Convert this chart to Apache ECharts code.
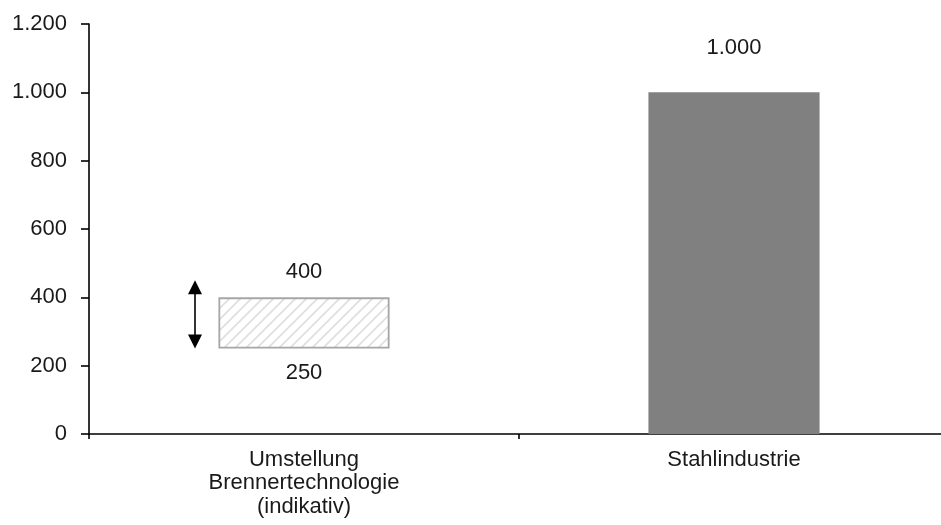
<!DOCTYPE html>
<html>
<head>
<meta charset="utf-8">
<script src="https://cdn.jsdelivr.net/npm/echarts@6/dist/echarts.min.js"></script>
<style>
  html, body { margin: 0; padding: 0; background: #fff; }
  #chart { width: 941px; height: 525px; }
</style>
</head>
<body>
<div id="chart"></div>
<script>
// Categories and values
var categories = ['Umstellung\nBrennertechnologie\n(indikativ)', 'Stahlindustrie'];
var rangeLow = [250, null];        // lower bound of the indicative range
var rangeHigh = [400, null];       // upper bound of the indicative range
var totals = [null, 1000];         // solid bar values
var arrowSpan = [450, 250];        // vertical extent of the double arrow
var yTicks = { min: 0, max: 1200, step: 200 };

function fmtDE(v) {
  return String(v).replace(/\B(?=(\d{3})+(?!\d))/g, '.');
}

// Diagonal hatch tile for the range box
function hatchPattern() {
  var s = 11;
  var c = document.createElement('canvas');
  c.width = s; c.height = s;
  var g = c.getContext('2d');
  g.fillStyle = '#ffffff';
  g.fillRect(0, 0, s, s);
  g.strokeStyle = '#dedede';
  g.lineWidth = 1.6;
  g.beginPath();
  g.moveTo(-1, s + 1); g.lineTo(s + 1, -1);
  g.moveTo(-1, 1); g.lineTo(1, -1);
  g.moveTo(s - 1, s + 1); g.lineTo(s + 1, s - 1);
  g.stroke();
  return c;
}

var FONT = 'Liberation Sans, Arial, sans-serif';
var FS = 22;
var TXT = '#1a1a1a';
var chart = echarts.init(document.getElementById('chart'));

var rangeSpan = rangeHigh.map(function (h, i) {
  return h == null ? null : h - rangeLow[i];
});

chart.setOption({
  animation: false,
  grid: { left: 89, right: -8, top: 24, bottom: 91, outerBoundsMode: 'none', containLabel: false },
  xAxis: {
    type: 'category',
    data: categories,
    axisLine: { lineStyle: { color: '#000', width: 1.6 } },
    axisTick: { show: true, length: 5, lineStyle: { color: '#000', width: 1.6 } },
    axisLabel: { color: TXT, fontSize: FS, fontFamily: FONT, lineHeight: 23.5, margin: 14, interval: 0 }
  },
  yAxis: {
    type: 'value',
    min: yTicks.min, max: yTicks.max, interval: yTicks.step,
    axisLine: { show: true, lineStyle: { color: '#000', width: 1.6 } },
    axisTick: { show: true, length: 8, lineStyle: { color: '#000', width: 1.6 } },
    splitLine: { show: false },
    axisLabel: { color: TXT, fontSize: FS, fontFamily: FONT, margin: 22, formatter: fmtDE }
  },
  series: [
    {
      name: 'base', type: 'bar', stack: 'r', barWidth: '39.8%',
      data: rangeLow,
      itemStyle: { color: 'rgba(0,0,0,0)' },
      label: {
        show: true, position: 'insideTop', distance: 13,
        color: TXT, fontSize: FS, fontFamily: FONT,
        formatter: function (p) { return fmtDE(p.value); }
      }
    },
    {
      name: 'range', type: 'bar', stack: 'r', barWidth: '39.8%',
      data: rangeSpan,
      itemStyle: {
        color: { image: hatchPattern(), repeat: 'repeat' },
        borderColor: '#a6a6a6', borderWidth: 1.8
      },
      label: {
        show: true, position: 'top', distance: 14,
        color: TXT, fontSize: FS, fontFamily: FONT,
        formatter: function (p) { return fmtDE(rangeHigh[p.dataIndex]); }
      }
    },
    {
      name: 'total', type: 'bar', stack: 'r', barWidth: '39.8%',
      data: totals,
      itemStyle: { color: '#808080' },
      label: {
        show: true, position: 'top', distance: 33,
        color: TXT, fontSize: FS, fontFamily: FONT,
        formatter: function (p) { return fmtDE(p.value); }
      }
    }
  ]
});

// Double-headed arrow to the left of the range box
function drawArrow() {
  var top = chart.convertToPixel({ seriesIndex: 1 }, [0, arrowSpan[0]]);
  var bot = chart.convertToPixel({ seriesIndex: 1 }, [0, arrowSpan[1]]);
  var x = top[0] - 109;
  var ty = top[1], by = bot[1];
  var hw = 7, hh = 14;
  chart.setOption({
    graphic: [
      { type: 'line', shape: { x1: x, y1: ty + hh - 1, x2: x, y2: by - hh + 1 }, style: { stroke: '#000', lineWidth: 1.6 } },
      { type: 'polygon', shape: { points: [[x, ty], [x - hw, ty + hh], [x + hw, ty + hh]] }, style: { fill: '#000' } },
      { type: 'polygon', shape: { points: [[x, by], [x - hw, by - hh], [x + hw, by - hh]] }, style: { fill: '#000' } }
    ]
  });
}
drawArrow();
</script>
</body>
</html>
